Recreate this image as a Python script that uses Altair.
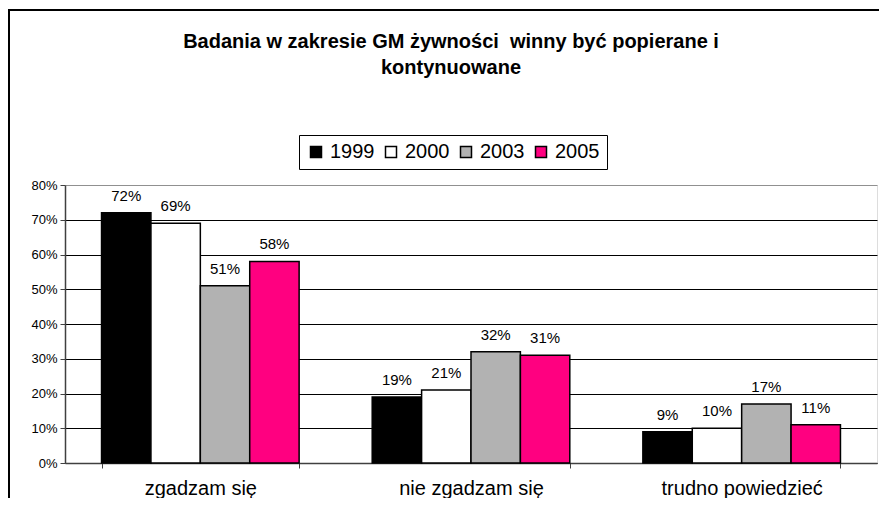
import altair as alt
import pandas as pd

categories = ["zgadzam się", "nie zgadzam się", "trudno powiedzieć"]
years = ["1999", "2000", "2003", "2005"]
values_1999 = [72, 19, 9]
values_2000 = [69, 21, 10]
values_2003 = [51, 32, 17]
values_2005 = [58, 31, 11]
colors = ["#000000", "#ffffff", "#b2b2b2", "#ff0080"]
title_line_1 = "Badania w zakresie GM żywności\u00a0 winny być popierane i"
title_line_2 = "kontynuowane"
y_ticks = [0, 0.1, 0.2, 0.3, 0.4, 0.5, 0.6, 0.7, 0.8]

rows = []
for yr, vals in zip(years, [values_1999, values_2000, values_2003, values_2005]):
    for c, v in zip(categories, vals):
        rows.append({"kategoria": c, "rok": yr, "wartosc": v / 100, "etykieta": f"{v}%"})
df = pd.DataFrame(rows)

FONT = "Liberation Sans"

x = alt.X(
    "kategoria:N",
    sort=categories,
    scale=alt.Scale(paddingInner=0.27, paddingOuter=0.135),
    axis=alt.Axis(
        title=None, labelAngle=0, labelFontSize=20, labelPadding=10,
        tickBand="extent", tickSize=5, tickColor="#404040",
        domainColor="#404040", domainWidth=1.5, labelColor="black", labelFont=FONT,
    ),
)
y = alt.Y(
    "wartosc:Q",
    scale=alt.Scale(domain=[0, 0.8]),
    axis=alt.Axis(
        title=None, format=".0%", values=y_ticks, labelFontSize=13, tickSize=5,
        tickColor="#404040", domainColor="#404040", domainWidth=1.5,
        grid=True, gridWidth=1, gridOpacity=1,
        gridColor=alt.condition("datum.value >= 0.8", alt.value("#909090"), alt.value("black")),
        labelPadding=3, labelColor="black", labelFont=FONT,
    ),
)
xo = alt.XOffset("rok:N", sort=years, scale=alt.Scale(paddingInner=0, paddingOuter=0))
color = alt.Color(
    "rok:N",
    sort=years,
    scale=alt.Scale(domain=years, range=colors),
    legend=alt.Legend(
        title=None, orient="none", legendX=234, legendY=-50, direction="horizontal",
        strokeColor="black", padding=7, symbolType="square", symbolSize=121,
        symbolStrokeColor="black", symbolStrokeWidth=1.5, labelFontSize=20,
        labelOffset=4, columnPadding=6, labelFont=FONT, labelColor="black",
        fillColor="white",
    ),
)

frame = alt.Chart(alt.Data(values=[{}])).mark_rect(
    filled=False, stroke="black", strokeWidth=2
).encode(
    x=alt.value(-56), x2=alt.value(900), y=alt.value(-175), y2=alt.value(400)
)

title1 = alt.Chart(alt.Data(values=[{}])).mark_text(
    fontSize=20, fontWeight="bold", font=FONT, color="black", baseline="middle", align="center"
).encode(x=alt.value(386), y=alt.value(-143), text=alt.value(title_line_1))
title2 = alt.Chart(alt.Data(values=[{}])).mark_text(
    fontSize=20, fontWeight="bold", font=FONT, color="black", baseline="middle", align="center"
).encode(x=alt.value(386), y=alt.value(-117), text=alt.value(title_line_2))

bars = alt.Chart(df).mark_bar(stroke="black", strokeWidth=1.5).encode(
    x=x, xOffset=xo, y=y, color=color
)
labels = alt.Chart(df).mark_text(
    baseline="bottom", dy=-9, fontSize=15, font=FONT, color="black"
).encode(x=x, xOffset=xo, y=y, text="etykieta:N")

chart = alt.layer(frame, title1, title2, bars, labels).properties(
    width=812,
    height=278,
    autosize=alt.AutoSizeParams(type="none"),
    padding={"left": 57, "top": 177, "right": 2, "bottom": 35},
).configure_view(stroke="#909090", strokeWidth=2).configure(background="white")

chart.save("out.html", embed_options={"renderer": "svg", "actions": False})
